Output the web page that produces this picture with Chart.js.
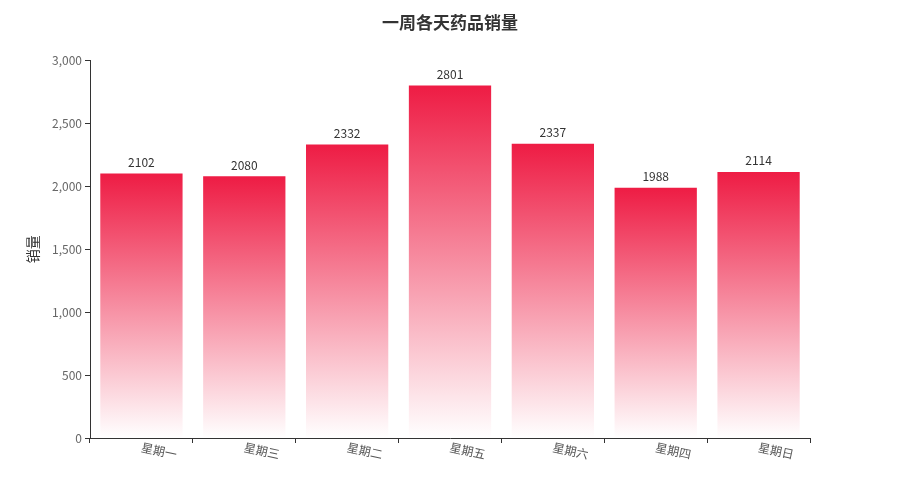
<!DOCTYPE html>
<html>
<head>
<meta charset="utf-8">
<script src="https://cdn.jsdelivr.net/npm/chart.js@4/dist/chart.umd.min.js"></script>
<style>
  html, body { margin: 0; padding: 0; background: #fff; }
</style>
</head>
<body>
<canvas id="chart" width="900" height="500"></canvas>
<script>
  const FONT = '"Noto Sans CJK SC", "Noto Sans", sans-serif';

  // data
  const days = ['星期一', '星期三', '星期二', '星期五', '星期六', '星期四', '星期日'];
  const sales = [2102, 2080, 2332, 2801, 2337, 1988, 2114];
  const yTicks = [0, 500, 1000, 1500, 2000, 2500, 3000];

  // gradient per bar, red at top -> white at bottom
  function barFill(ctx) {
    const chart = ctx.chart;
    const y = chart.scales.y;
    if (!chart.chartArea || !y || ctx.raw == null) return '#ee1c44';
    const top = y.getPixelForValue(ctx.raw);
    const bottom = y.getPixelForValue(0);
    const g = chart.ctx.createLinearGradient(0, top, 0, bottom);
    g.addColorStop(0, '#ee1c44');
    g.addColorStop(1, '#ffffff');
    return g;
  }

  // slanted category labels + value labels
  const labelsPlugin = {
    id: 'labels',
    afterDraw(chart) {
      const ctx = chart.ctx;
      const xs = chart.scales.x;
      const bottom = chart.chartArea.bottom;
      ctx.save();
      ctx.font = '12px ' + FONT;
      ctx.fillStyle = '#555';
      ctx.textAlign = 'left';
      ctx.textBaseline = 'middle';
      days.forEach((d, i) => {
        const x = xs.getPixelForValue(i);
        ctx.save();
        ctx.translate(x, bottom + 9);
        ctx.rotate(12 * Math.PI / 180);
        ctx.fillText(d, 0, 0);
        ctx.restore();
      });
      // values above bars
      ctx.fillStyle = '#333';
      ctx.textAlign = 'center';
      ctx.textBaseline = 'bottom';
      chart.getDatasetMeta(0).data.forEach((bar, i) => {
        ctx.fillText(String(sales[i]), bar.x, bar.y - 5);
      });
      ctx.restore();
    }
  };

  new Chart(document.getElementById('chart'), {
    type: 'bar',
    data: {
      labels: days,
      datasets: [{
        label: '销量',
        data: sales,
        backgroundColor: barFill,
        borderWidth: 0,
        barPercentage: 0.8,
        categoryPercentage: 1
      }]
    },
    options: {
      responsive: false,
      animation: false,
      layout: { padding: 0 },
      plugins: {
        legend: { display: false },
        tooltip: { enabled: false },
        title: {
          display: true,
          text: '一周各天药品销量',
          color: '#333',
          font: { family: FONT, size: 17, weight: 'bold' },
          padding: { top: 12, bottom: 28 }
        }
      },
      scales: {
        x: {
          offset: true,
          grid: { offset: true, drawOnChartArea: false, drawTicks: true, tickLength: 5, color: '#333' },
          border: { color: '#333', width: 1 },
          ticks: { display: false },
          afterFit(s) { s.height = 62; }
        },
        y: {
          min: 0,
          max: 3000,
          afterBuildTicks(s) { s.ticks = yTicks.map(v => ({ value: v })); },
          grid: { drawOnChartArea: false, drawTicks: true, tickLength: 5, color: '#333' },
          border: { color: '#333', width: 1 },
          ticks: {
            color: '#666',
            padding: 3,
            font: { family: FONT, size: 12 },
            callback: v => v.toLocaleString('en-US')
          },
          title: {
            display: true,
            text: '销量',
            color: '#333',
            font: { family: FONT, size: 14 },
            padding: { top: 24, bottom: 0 }
          },
          afterFit(s) { s.width = 90; }
        },
        // empty right-hand spacer so the plot ends at x=810 and the title stays centred
        spacer: {
          position: 'right',
          min: 0,
          max: 1,
          grid: { display: false },
          border: { display: false },
          ticks: { display: false },
          afterFit(s) { s.width = 90; }
        }
      }
    },
    plugins: [labelsPlugin]
  });
</script>
</body>
</html>
